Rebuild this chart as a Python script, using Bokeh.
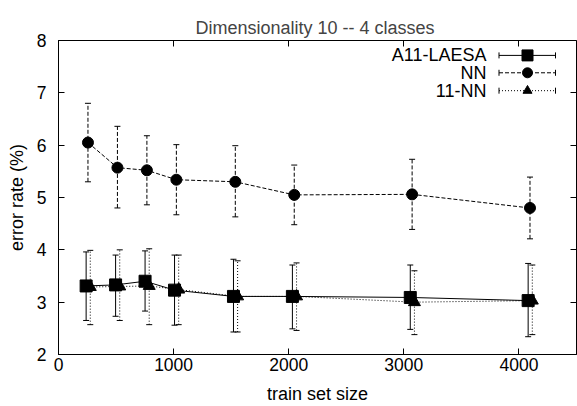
from bokeh.plotting import figure
from bokeh.models import (Range1d, LinearAxis, FixedTicker, Whisker, TeeHead,
                          ColumnDataSource, CustomJSTickFormatter)
from bokeh.core.properties import value
from bokeh.embed import file_html
from bokeh.resources import INLINE

# ---- data ----
sizes = [256, 512, 768, 1024, 1536, 2048, 3072, 4096]
laesa_x = [240, 496, 752, 1008, 1520, 2032, 3056, 4080]
knn_x = [276, 532, 788, 1044, 1556, 2068, 3092, 4116]

laesa = [3.31, 3.33, 3.40, 3.23, 3.11, 3.11, 3.09, 3.03]
laesa_hi = [3.96, 3.90, 3.98, 3.90, 3.82, 3.71, 3.71, 3.74]
laesa_lo = [2.65, 2.73, 2.83, 2.56, 2.43, 2.49, 2.48, 2.34]

nn = [6.05, 5.57, 5.52, 5.34, 5.30, 5.05, 5.06, 4.80]
nn_hi = [6.80, 6.36, 6.18, 6.01, 5.99, 5.62, 5.73, 5.39]
nn_lo = [5.30, 4.80, 4.86, 4.67, 4.63, 4.48, 4.39, 4.21]

knn = [3.29, 3.30, 3.31, 3.24, 3.11, 3.11, 3.00, 3.03]
knn_hi = [3.99, 4.00, 4.02, 3.90, 3.79, 3.75, 3.60, 3.71]
knn_lo = [2.57, 2.65, 2.57, 2.57, 2.43, 2.46, 2.38, 2.38]

series_names = ["A11-LAESA", "NN", "11-NN"]
x_ticks = [0, 1000, 2000, 3000, 4000]
y_ticks = [2, 3, 4, 5, 6, 7, 8]

FONT = "Liberation Sans"

p = figure(width=577, height=406, output_backend="svg", toolbar_location=None,
           x_range=Range1d(0, 4500), y_range=Range1d(2, 8),
           min_border_left=58, min_border_right=1, min_border_top=40,
           min_border_bottom=50, x_axis_type=None, y_axis_type=None)
p.title.text = "Dimensionality 10  -- 4 classes"
p.title.align = "center"
p.title.text_font = FONT
p.title.text_font_size = "18px"
p.title.text_font_style = "normal"
p.title.standoff = 6
p.xgrid.visible = False
p.ygrid.visible = False
p.outline_line_color = "black"
p.outline_line_width = 1
p.background_fill_color = "white"
p.border_fill_color = "white"

empty = CustomJSTickFormatter(code="return ''")

def style_axis(ax, labels=True):
    ax.major_tick_in = 6
    ax.major_tick_out = 0
    ax.minor_tick_line_color = None
    ax.major_tick_line_color = "black"
    ax.axis_line_color = "black"
    if labels:
        ax.major_label_text_font = FONT
        ax.major_label_text_font_size = "17.5px"
        ax.major_label_text_color = "black"
        ax.axis_label_text_font = FONT
        ax.axis_label_text_font_size = "18px"
        ax.axis_label_text_font_style = "normal"
        ax.axis_label_text_color = "black"
    else:
        ax.formatter = empty
        ax.major_label_text_font_size = "1px"
        ax.major_label_standoff = 0
        ax.axis_line_color = None

xb = LinearAxis(ticker=FixedTicker(ticks=x_ticks), axis_label="train set size")
style_axis(xb)
xb.major_label_standoff = 3
xb.axis_label_standoff = 10
xb.axis_label_text_line_height = 0.8
xb.major_label_text_line_height = 0.8
p.add_layout(xb, "below")

yl = LinearAxis(ticker=FixedTicker(ticks=y_ticks), axis_label="error rate (%)")
style_axis(yl)
yl.major_label_standoff = 12
yl.axis_label_standoff = 7
p.add_layout(yl, "left")

xt = LinearAxis(ticker=FixedTicker(ticks=x_ticks))
style_axis(xt, labels=False)
p.add_layout(xt, "above")
yr = LinearAxis(ticker=FixedTicker(ticks=y_ticks))
style_axis(yr, labels=False)
p.add_layout(yr, "right")

def errbars(x, lo, hi, dash):
    src = ColumnDataSource(dict(x=x, lo=lo, hi=hi))
    w = Whisker(source=src, base="x", lower="lo", upper="hi", dimension="height",
                line_color="black", line_width=1, line_dash=dash,
                upper_head=TeeHead(size=6, line_color="black", line_width=1),
                lower_head=TeeHead(size=6, line_color="black", line_width=1))
    p.add_layout(w)

errbars(laesa_x, laesa_lo, laesa_hi, "solid")
errbars(sizes, nn_lo, nn_hi, "4 2")
errbars(knn_x, knn_lo, knn_hi, "1 2")

p.line(laesa_x, laesa, line_color="black", line_width=1)
p.line(sizes, nn, line_color="black", line_width=1, line_dash="4 2")
p.line(knn_x, knn, line_color="black", line_width=1, line_dash="1 2")

p.scatter(laesa_x, laesa, marker="square", size=12, fill_color="black", line_color="black")
p.scatter(sizes, nn, marker="circle", size=11, fill_color="black", line_color="black")
p.scatter(knn_x, knn, marker="triangle", size=12, fill_color="black", line_color="black")

# ---- legend (frame pixel coordinates) ----
p.extra_x_ranges = {"lx": Range1d(0, 518)}
p.extra_y_ranges = {"ly": Range1d(0, 316)}
leg_y = [301, 283.5, 265.5]
leg_text_x = [428] * 3
p.text(leg_text_x, leg_y, text=series_names, text_align="right", text_baseline="middle",
       text_font=value(FONT), text_font_size="18px", text_color="black",
       x_range_name="lx", y_range_name="ly")
dashes = ["solid", "4 2", "1 2"]
for i, d in enumerate(dashes):
    src = ColumnDataSource(dict(y=[leg_y[i]], a=[440.5], b=[497]))
    w = Whisker(source=src, base="y", lower="a", upper="b", dimension="width",
                line_color="black", line_width=1, line_dash=d,
                upper_head=TeeHead(size=6, line_color="black", line_width=1),
                lower_head=TeeHead(size=6, line_color="black", line_width=1),
                x_range_name="lx", y_range_name="ly")
    p.add_layout(w)
markers = ["square", "circle", "triangle"]
msizes = [11, 10, 9]
for i, m in enumerate(markers):
    p.scatter([469], [leg_y[i]], marker=m, size=msizes[i], fill_color="black",
              line_color="black", x_range_name="lx", y_range_name="ly")

open("out.html", "w").write(file_html(p, INLINE))
